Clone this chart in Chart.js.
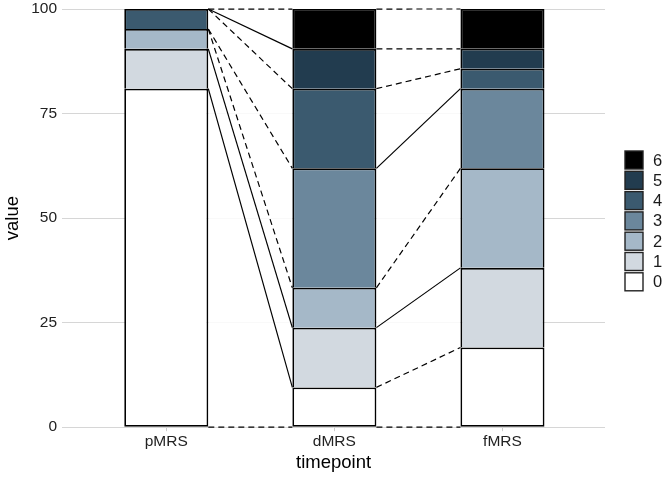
<!DOCTYPE html>
<html>
<head>
<meta charset="utf-8">
<script src="https://cdn.jsdelivr.net/npm/chart.js@4.4.1/dist/chart.umd.min.js"></script>
<style>
  html, body { margin: 0; padding: 0; background: #fff; }
  #wrap { width: 672px; height: 480px; }
</style>
</head>
<body>
<div id="wrap"><canvas id="chart"></canvas></div>
<script>
// percentages per mRS score at each timepoint (n = 21)
const TIMEPOINTS = ["pMRS", "dMRS", "fMRS"];
const SCORES = ["0", "1", "2", "3", "4", "5", "6"];
const score0 = [80.95, 9.52, 19.05];
const score1 = [9.52, 14.29, 19.05];
const score2 = [4.76, 9.52, 23.81];
const score3 = [0, 28.57, 19.05];
const score4 = [4.76, 19.05, 4.76];
const score5 = [0, 9.52, 4.76];
const score6 = [0, 9.52, 9.52];
const Y_TICKS = [0, 25, 50, 75, 100];

const SERIES = [score0, score1, score2, score3, score4, score5, score6];
const COLORS = ["#ffffff", "#d2d9e0", "#a5b8c8", "#6b879c", "#3b5a6f", "#223c4f", "#000000"];
// which flow edges look solid (top edge of each score), per gap between bars
const SOLID = [
  [true, true, false, false, false, true, false],
  [false, true, false, true, false, false, false],
];
const FONT = "'Liberation Sans', Arial, sans-serif";

const flowPlugin = {
  id: "flows",
  beforeDatasetsDraw(chart) {
    const { ctx, scales: { y } } = chart;
    const bars = chart.getDatasetMeta(0).data;
    const y0 = y.getPixelForValue(0);
    const y100 = y.getPixelForValue(100);
    for (let i = 0; i < bars.length - 1; i++) {
      const a = bars[i].getProps(["x", "width"], true);
      const b = bars[i + 1].getProps(["x", "width"], true);
      const xa = a.x + a.width / 2;
      const xb = b.x - b.width / 2;
      ctx.save();
      ctx.fillStyle = "rgba(255,255,255,0.85)";
      ctx.fillRect(xa, y100, xb - xa, y0 - y100);
      const edges = [[0, 0, false]];
      let ca = 0, cb = 0;
      SERIES.forEach((s, k) => {
        ca += s[i];
        cb += s[i + 1];
        edges.push([ca, cb, SOLID[i][k]]);
      });
      ctx.strokeStyle = "#000";
      ctx.lineWidth = 1.2;
      for (const [va, vb, solid] of edges) {
        ctx.setLineDash(solid ? [] : [6, 4]);
        ctx.beginPath();
        ctx.moveTo(xa, y.getPixelForValue(Math.min(va, 100)));
        ctx.lineTo(xb, y.getPixelForValue(Math.min(vb, 100)));
        ctx.stroke();
      }
      ctx.restore();
    }
  },
};

const legendPlugin = {
  id: "keyLegend",
  afterDraw(chart) {
    const { ctx } = chart;
    const size = 20, pitch = 20.3;
    const x = 624;
    const top = 150;
    ctx.save();
    ctx.font = "16.5px " + FONT;
    ctx.textBaseline = "middle";
    for (let j = 0; j < SCORES.length; j++) {
      const k = SCORES.length - 1 - j;
      const yy = top + j * pitch;
      ctx.fillStyle = COLORS[k];
      ctx.fillRect(x + 1, yy + 1, size - 2, size - 2);
      ctx.strokeStyle = "#222";
      ctx.lineWidth = 1.4;
      ctx.strokeRect(x + 1, yy + 1, size - 2, size - 2);
      ctx.fillStyle = "#1a1a1a";
      ctx.fillText(SCORES[k], 653, yy + size / 2 + 1);
    }
    ctx.restore();
  },
};

const datasets = SERIES.map((s, k) => ({
  label: SCORES[k],
  data: s.map((v, i) => ({ x: i, y: v })),
  backgroundColor: COLORS[k],
  borderColor: "#000",
  borderWidth: 1.8,
  borderSkipped: k === 0 ? false : "bottom",
  barPercentage: 0.5,
  categoryPercentage: 1,
}));

new Chart(document.getElementById("chart"), {
  type: "bar",
  data: { datasets },
  plugins: [flowPlugin, legendPlugin],
  options: {
    responsive: true,
    maintainAspectRatio: false,
    animation: false,
    layout: { padding: { left: 2, right: 67, top: 9, bottom: 6 } },
    plugins: { legend: { display: false }, tooltip: { enabled: false } },
    scales: {
      x: {
        type: "linear",
        stacked: true,
        offset: false,
        min: -0.62,
        max: 2.61,
        afterBuildTicks: (scale) => {
          scale.ticks = TIMEPOINTS.map((_, i) => ({ value: i }));
        },
        ticks: {
          autoSkip: false,
          maxRotation: 0,
          padding: 1,
          color: "#222",
          font: { family: FONT, size: 15.5 },
          callback: (v) => TIMEPOINTS[v],
        },
        grid: { offset: false, drawOnChartArea: false, drawTicks: true, tickLength: 4, tickColor: "#cccccc" },
        border: { display: false },
        title: {
          display: true,
          text: "timepoint",
          color: "#000",
          font: { family: FONT, size: 18.5 },
          padding: { top: 0, bottom: 0 },
        },
      },
      y: {
        stacked: true,
        min: 0,
        max: 100,
        afterBuildTicks: (scale) => {
          scale.ticks = Y_TICKS.map((v) => ({ value: v }));
        },
        // let the top tick label poke above the plot like ggplot does
        afterFit: (scale) => {
          scale.paddingTop = 0;
        },
        ticks: {
          padding: 5,
          color: "#222",
          font: { family: FONT, size: 15.5 },
        },
        grid: { color: "#d6d6d6", lineWidth: 1, drawTicks: false },
        border: { display: false },
        title: {
          display: true,
          text: "value",
          color: "#000",
          font: { family: FONT, size: 18.5 },
          padding: { top: 0, bottom: 2 },
        },
      },
    },
  },
});
</script>
</body>
</html>
